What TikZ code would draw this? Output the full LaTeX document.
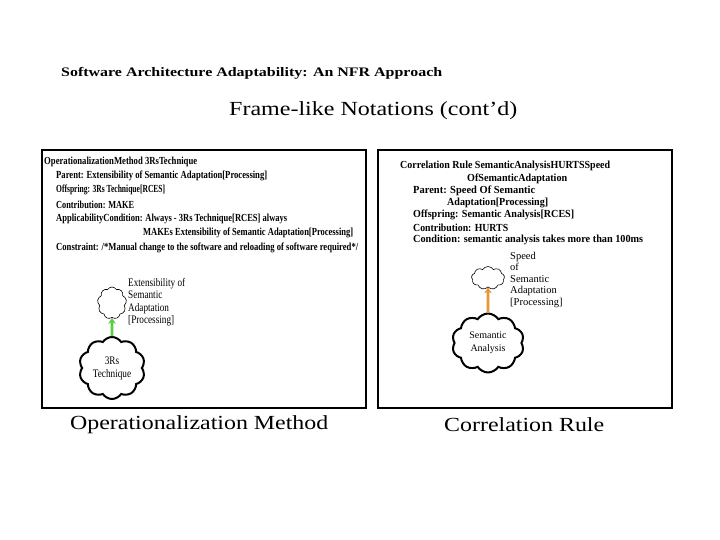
\documentclass[tikz,border=0pt]{standalone}
\usepackage{fontspec}
\setmainfont{Liberation Serif}
\newfontfamily\condserif[FakeStretch=0.8]{Liberation Serif}
\usetikzlibrary{shapes.symbols,arrows.meta}
\newcommand{\fitw}[2]{\resizebox{#1}{\height}{#2}}
\definecolor{arrowgreen}{RGB}{90,205,70}
\definecolor{arroworange}{RGB}{232,150,55}
\tikzset{
  frameline/.style={anchor=west, inner sep=0pt, font=\bfseries\fontsize{10.8}{12}\selectfont},
  bigtext/.style={anchor=west, inner sep=0pt, font=\fontsize{20}{24}\selectfont},
  panel/.style={draw=black, line width=1.5pt},
  bigcloud/.style={cloud, cloud puffs=10, cloud puff arc=115, draw=black, line width=2pt, inner sep=0pt, align=center, font=\fontsize{10}{12.5}\selectfont},
  smallcloud/.style={cloud, cloud puffs=9, cloud puff arc=120, draw=black, line width=0.6pt, inner sep=0pt},
  cloudlabel/.style={anchor=north west, inner sep=0pt, align=left, font=\fontsize{10.5}{11.5}\selectfont},
  linkarrow/.style={line width=2.8pt, -{Stealth[length=6pt,width=7.5pt]}}
}
\begin{document}
\begin{tikzpicture}[x=1pt,y=-1pt]
\useasboundingbox (0,0) rectangle (720,540);
\fill[white] (0,0) rectangle (720,540);

\node[anchor=west, inner sep=0pt, font=\bfseries\fontsize{13}{15}\selectfont] (title) at (61,73) {\fitw{381pt}{Software Architecture Adaptability: An NFR Approach}};
\node[bigtext] (heading) at (229,111) {\fitw{288pt}{Frame-like Notations (cont’d)}};

\draw[panel] (42,150) rectangle (366,408);
\draw[panel] (378,150) rectangle (672,408);

% left frame
\node[frameline] (l1) at (44,161.5) {\fitw{153pt}{OperationalizationMethod 3RsTechnique}};
\node[frameline] (l2) at (56,176) {\fitw{211pt}{Parent: Extensibility of Semantic Adaptation[Processing]}};
\node[frameline] (l3) at (56,190) {\fitw{109pt}{Offspring: 3Rs Technique[RCES]}};
\node[frameline] (l4) at (56,204.5) {\fitw{78pt}{Contribution: MAKE}};
\node[frameline] (l5) at (56,219) {\fitw{231pt}{ApplicabilityCondition: Always - 3Rs Technique[RCES] always}};
\node[frameline] (l6) at (143,233) {\fitw{210pt}{MAKEs Extensibility of Semantic Adaptation[Processing]}};
\node[frameline] (l7) at (56,247.5) {\fitw{302pt}{Constraint: /*Manual change to the software and reloading of software required*/}};

% right frame
\node[frameline] (r1) at (400,166) {\fitw{210pt}{Correlation Rule SemanticAnalysisHURTSSpeed}};
\node[frameline] (r2) at (467,178.5) {\fitw{100pt}{OfSemanticAdaptation}};
\node[frameline] (r3) at (413,191) {\fitw{122pt}{Parent: Speed Of Semantic}};
\node[frameline] (r4) at (447,203) {\fitw{101pt}{Adaptation[Processing]}};
\node[frameline] (r5) at (413,215) {\fitw{161pt}{Offspring: Semantic Analysis[RCES]}};
\node[frameline] (r6) at (413,228) {\fitw{95pt}{Contribution: HURTS}};
\node[frameline] (r7) at (413,240) {\fitw{230pt}{Condition: semantic analysis takes more than 100ms}};

% left diagram
\node[smallcloud, minimum width=29pt, minimum height=32pt] (sgl) at (112,303) {};
\node[cloudlabel, font=\condserif\fontsize{11.5}{12.5}\selectfont] (sgllabel) at (128,278) {Extensibility of\\Semantic\\Adaptation\\{[Processing]}};
\node[bigcloud, minimum width=66pt, minimum height=62pt, font=\condserif\fontsize{11.5}{13}\selectfont] (opl) at (112,368) {3Rs\\Technique};
\draw[linkarrow, arrowgreen] (opl.north) -- (sgl.south);

% right diagram
\node[smallcloud, minimum width=33pt, minimum height=23pt] (sgr) at (488,278) {};
\node[cloudlabel] (sgrlabel) at (510,252) {Speed\\of\\Semantic\\Adaptation\\{[Processing]}};
\node[bigcloud, minimum width=72pt, minimum height=52pt] (opr) at (488,343) {Semantic\\Analysis};
\draw[linkarrow, arroworange] (opr.north) -- (sgr.south);

% captions
\node[bigtext] (capl) at (70,425) {\fitw{258pt}{Operationalization Method}};
\node[bigtext] (capr) at (444,425) {\fitw{160pt}{Correlation Rule}};
\end{tikzpicture}
\end{document}
